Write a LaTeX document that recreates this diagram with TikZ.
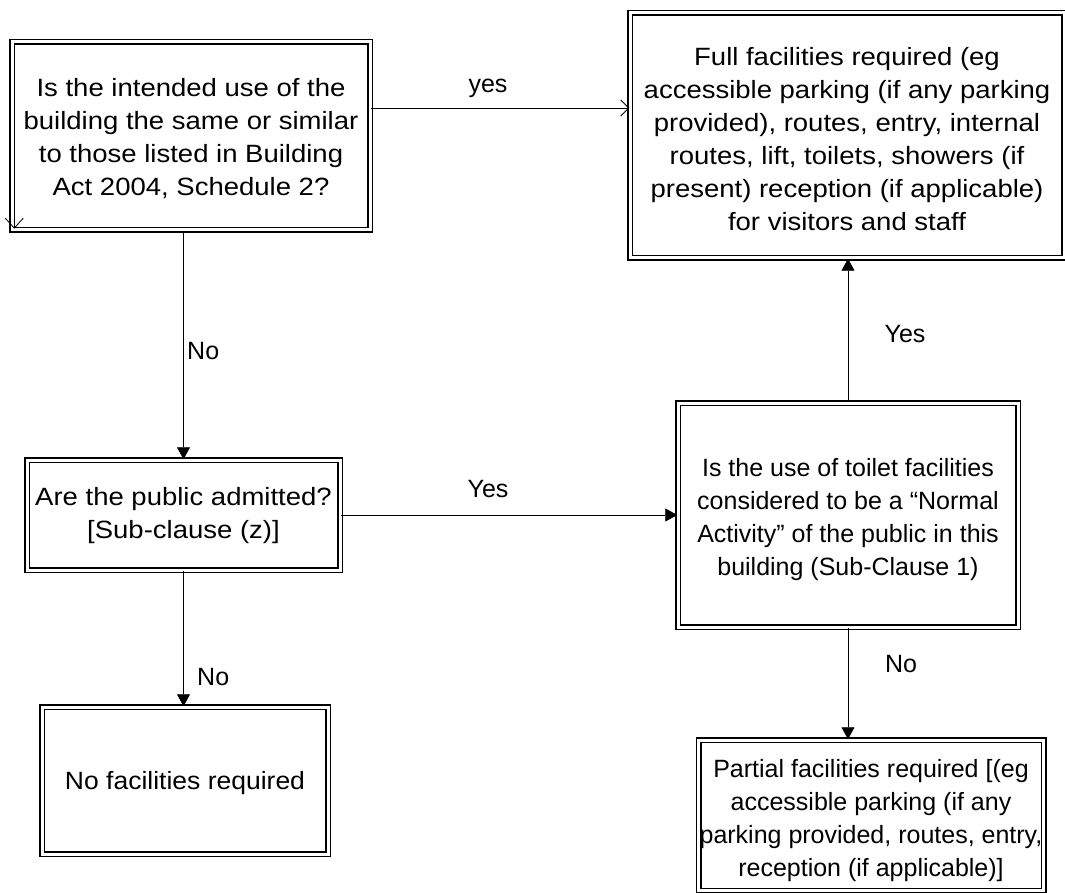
\documentclass[tikz,border=0pt]{standalone}
\usepackage{fontspec}
\setmainfont{Liberation Sans}
\newfontfamily\widefont{Liberation Sans}[FakeStretch=1.1]
\newfontfamily\midfont{Liberation Sans}[FakeStretch=1.06]
\usetikzlibrary{arrows.meta}
\begin{document}
\begin{tikzpicture}[x=1pt, y=-1pt,
  qbox/.style={draw, double, line width=1.5pt, double distance=3pt, align=center, inner sep=0pt, anchor=base},
  widetext/.style={font=\widefont\fontsize{25}{33}\selectfont},
  midtext/.style={font=\midfont\fontsize{25}{33}\selectfont},
  lbl/.style={anchor=base, inner sep=0pt},
  arr/.style={line width=0.8pt, -{Triangle[length=12pt,width=13pt]}},
  barb/.style={line width=0.8pt, -{Straight Barb[length=8pt,width=16pt]}}]
\useasboundingbox (0,0) rectangle (1065,893);
\fontsize{25}{33}\selectfont
\node[qbox, widetext, minimum width=358pt, text height=153.5pt, text depth=34.5pt] (usebox) at (191,195.5)
  {Is the intended use of the\\ building the same or similar\\ to those listed in Building\\ Act 2004, Schedule 2?};
\node[qbox, widetext, minimum width=434pt, text height=217.5pt, text depth=27.5pt] (fullbox) at (847,230.5)
  {Full facilities required (eg\\ accessible parking (if any parking\\ provided), routes, entry, internal\\ routes, lift, toilets, showers (if\\ present) reception (if applicable)\\ for visitors and staff};
\node[qbox, widetext, minimum width=313pt, text height=78.5pt, text depth=31.5pt] (publicbox) at (183.5,538.5)
  {Are the public admitted?\\ {[}Sub-clause (z)]};
\node[qbox, minimum width=340pt, text height=172.5pt, text depth=51.5pt] (toiletbox) at (848,575.5)
  {Is the use of toilet facilities\\ considered to be a “Normal\\ Activity” of the public in this\\ building (Sub-Clause 1)};
\node[qbox, midtext, minimum width=286pt, text height=82.5pt, text depth=64.5pt] (nonebox) at (185,789.5)
  {No facilities required};
\node[qbox, minimum width=345pt, text height=136.5pt, text depth=14pt] (partbox) at (871,876.5)
  {Partial facilities required [(eg\\ accessible parking (if any\\ parking provided, routes, entry,\\ reception (if applicable)]};
% labels
\node[lbl] (yes1) at (488,93) {yes};
\node[lbl, anchor=base west] (no1) at (187,359) {No};
\node[lbl] (yes2) at (488,497) {Yes};
\node[lbl, anchor=base west] (no2) at (197,685) {No};
\node[lbl] (yes3) at (905,342) {Yes};
\node[lbl] (no3) at (901,672) {No};
% connectors
\coordinate (yesrow) at (0,108);
\draw[barb] (usebox.east |- yesrow) -- (fullbox.west |- yesrow);
\draw[barb, -{Straight Barb[length=10pt,width=18pt]}] ([shift={(3pt,14pt)}]usebox.south west) -- ([shift={(3pt,2pt)}]usebox.south west);
\draw[arr] (usebox.south -| publicbox.north) -- (publicbox.north);
\draw[arr] (publicbox.east) -- (toiletbox.west |- publicbox.east);
\draw[arr] (publicbox.south) -- (publicbox.south |- nonebox.north);
\draw[arr] (toiletbox.north) -- (toiletbox.north |- fullbox.south);
\draw[arr] (toiletbox.south) -- (toiletbox.south |- partbox.north);
\end{tikzpicture}
\end{document}
